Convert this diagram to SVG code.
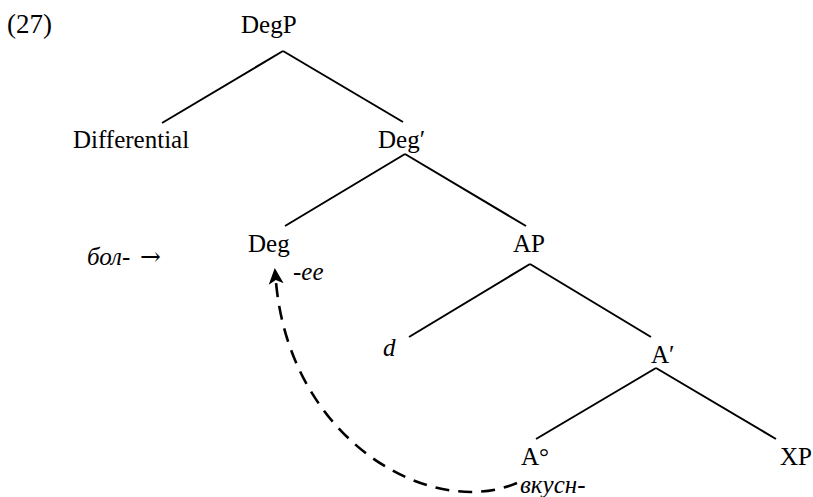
<svg xmlns="http://www.w3.org/2000/svg" width="813" height="497" viewBox="0 0 813 497">
  <style>
    text { font-family: "Liberation Serif", "Times New Roman", serif; font-size: 25px; fill: #000; }
    .it { font-style: italic; }
    .sym { font-family: "DejaVu Serif", serif; font-style: normal; }
    .branch { stroke: #000; stroke-width: 2; fill: none; stroke-linecap: butt; }
    .move { stroke: #000; stroke-width: 2.6; fill: none; stroke-dasharray: 14 9; }
  </style>
  <defs>
    <marker id="head" viewBox="0 0 16 16" refX="2" refY="8" markerWidth="16" markerHeight="16" markerUnits="userSpaceOnUse" orient="auto">
      <path d="M16 8 L0 0.5 L4 8 L0 15.5 Z" fill="#000"/>
    </marker>
  </defs>

  <text x="7" y="33" style="font-size:27px">(27)</text>

  <g id="connectors">
    <line class="branch" x1="283" y1="51" x2="162" y2="123"/>
    <line class="branch" x1="283" y1="51" x2="403" y2="122"/>
    <line class="branch" x1="405" y1="154" x2="285" y2="226"/>
    <line class="branch" x1="405" y1="154" x2="526" y2="226"/>
    <line class="branch" x1="530" y1="264" x2="409" y2="337"/>
    <line class="branch" x1="530" y1="264" x2="651" y2="337"/>
    <line class="branch" x1="656" y1="368" x2="536" y2="439"/>
    <line class="branch" x1="656" y1="368" x2="776" y2="439"/>
    <!-- head movement from A° up to Deg -->
    <path class="move" d="M517 483 C430 520 290 440 276 282" marker-end="url(#head)"/>
  </g>

  <g id="node-degp"><text x="241" y="33">DegP</text></g>
  <g id="node-differential"><text x="73" y="148">Differential</text></g>
  <g id="node-degbar"><text x="378" y="148">Deg′</text></g>
  <g id="node-deg">
    <text x="248" y="252">Deg</text>
    <text class="it" x="293" y="280">-ee</text>
  </g>
  <g id="node-bol"><text class="it" x="87" y="265">бол-</text><text class="sym" x="140" y="265">→</text></g>
  <g id="node-ap"><text x="513" y="252">AP</text></g>
  <g id="node-d"><text class="it" x="383" y="356">d</text></g>
  <g id="node-abar"><text x="651" y="363">A′</text></g>
  <g id="node-a0">
    <text x="521" y="465">A°</text>
    <text class="it" x="520" y="493">вкусн-</text>
  </g>
  <g id="node-xp"><text x="780" y="465">XP</text></g>
</svg>
